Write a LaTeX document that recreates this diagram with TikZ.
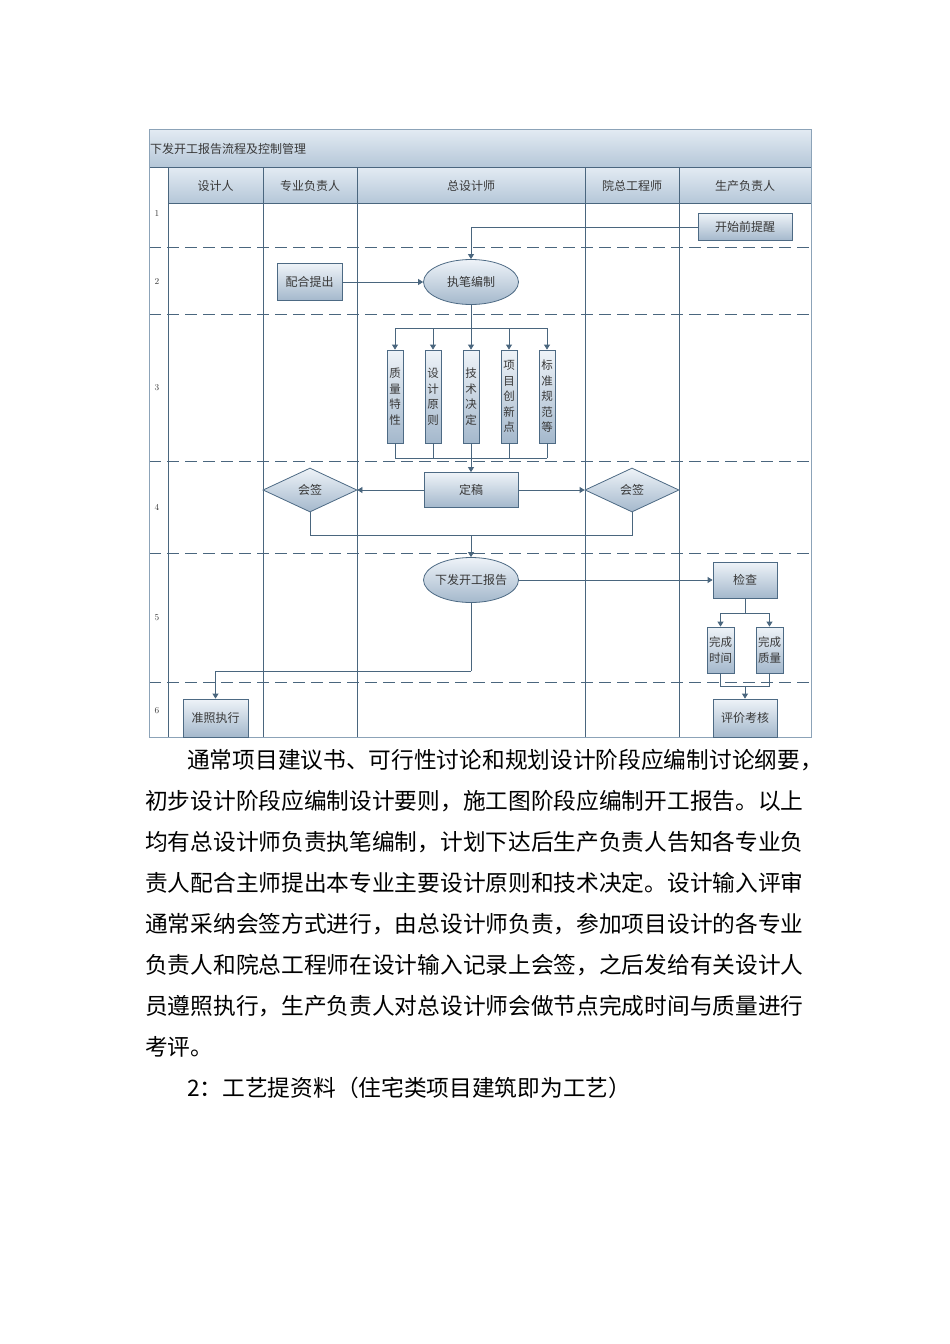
\documentclass[tikz,border=0pt]{standalone}
\usepackage{fontspec}
\newfontfamily\cjk{Noto Sans CJK SC}
\usetikzlibrary{shapes.geometric,arrows.meta}
\definecolor{lc}{HTML}{4A667E}
\definecolor{bc}{HTML}{4D6A84}
\definecolor{fr}{HTML}{8CA3B8}
\definecolor{tc}{HTML}{EEF3F8}
\definecolor{bcl}{HTML}{A4B8CC}
\definecolor{ttop}{HTML}{E3EBF3}
\definecolor{tbot}{HTML}{B5C7D8}
\definecolor{tx}{HTML}{383838}
\tikzset{
  proc/.style={draw=bc, line width=0.8pt, top color=tc, bottom color=bcl, inner sep=0pt,
    text=tx, font=\cjk\fontsize{12}{14}\selectfont},
  vbox/.style={proc, minimum width=16pt, minimum height=93pt, align=center,
    font=\cjk\fontsize{11.5}{15.5}\selectfont},
  cbox/.style={proc, minimum width=27pt, minimum height=46pt, align=center,
    font=\cjk\fontsize{11.5}{16}\selectfont},
  oval/.style={proc, ellipse, minimum width=95pt, minimum height=45pt},
  dia/.style={proc, diamond, minimum width=94pt, minimum height=44pt},
  conn/.style={draw=lc, line width=0.8pt},
  arr/.style={conn, -{Triangle[length=5pt,width=6pt]}},
  lane/.style={draw=lc, line width=0.8pt},
  rowsep/.style={draw=lc, line width=0.8pt, dash pattern=on 12pt off 6pt},
  hdr/.style={text=tx, font=\cjk\fontsize{12}{14}\selectfont, inner sep=0pt},
  num/.style={text=tx, font=\fontsize{9}{10}\selectfont, inner sep=0pt},
  body/.style={anchor=west, inner sep=0pt, font=\cjk\fontsize{22.7}{26}\selectfont}
}
\begin{document}
\begin{tikzpicture}[x=1pt,y=-1pt]
\useasboundingbox[fill=white] (0,0) rectangle (950,1344);
% title bar and header
\shade[top color=ttop, bottom color=tbot] (149,129) rectangle (811,167);
\shade[top color=ttop, bottom color=tbot] (168,167) rectangle (811,203);
\node[hdr, anchor=west] (title) at (150,149) {下发开工报告流程及控制管理};
\node[hdr] (h1) at (215.5,186) {设计人};
\node[hdr] (h2) at (310,186) {专业负责人};
\node[hdr] (h3) at (471,186) {总设计师};
\node[hdr] (h4) at (632,186) {院总工程师};
\node[hdr] (h5) at (745,186) {生产负责人};
% lanes
\draw[lane] (149,167) -- (811,167);
\draw[lane] (168,203) -- (811,203);
\foreach \x in {168,263,357,585,679} \draw[lane] (\x,167) -- (\x,737);
\foreach \y in {247,314,461,553,682} \draw[rowsep] (149,\y) -- (811,\y);
\draw[draw=fr, line width=1pt] (149,129) rectangle (811,737);
% row numbers
\node[num] (r1) at (157,213) {1};
\node[num] (r2) at (157,281) {2};
\node[num] (r3) at (157,388) {3};
\node[num] (r4) at (157,507) {4};
\node[num] (r5) at (157,618) {5};
\node[num] (r6) at (157,711) {6};
% nodes
\node[proc, minimum width=94pt, minimum height=27pt] (remind) at (745,227) {开始前提醒};
\node[proc, minimum width=65pt, minimum height=37pt] (peihe) at (309.5,282) {配合提出};
\node[oval] (bz) at (471,282) {执笔编制};
\node[vbox] (v1) at (395,396.5) {质\\量\\特\\性};
\node[vbox] (v2) at (433,396.5) {设\\计\\原\\则};
\node[vbox] (v3) at (471,396.5) {技\\术\\决\\定};
\node[vbox] (v4) at (509,396.5) {项\\目\\创\\新\\点};
\node[vbox] (v5) at (547,396.5) {标\\准\\规\\范\\等};
\node[proc, minimum width=94pt, minimum height=35pt] (dg) at (471,490) {定稿};
\node[dia] (hq1) at (310,490) {会签};
\node[dia] (hq2) at (632,490) {会签};
\node[oval] (xf) at (471,580) {\makebox[40pt][c]{下发开工报告}};
\node[proc, minimum width=64pt, minimum height=36pt] (jc) at (745,580) {检查};
\node[cbox] (t1) at (720.5,650) {完成\\时间};
\node[cbox] (t2) at (769.5,650) {完成\\质量};
\node[proc, minimum width=64pt, minimum height=38pt] (pj) at (745,718) {评价考核};
\node[proc, minimum width=65pt, minimum height=38pt] (zz) at (215.5,718) {准照执行};
% junction coordinates
\coordinate (b3) at (471,328);
\coordinate (j3) at (471,458);
\coordinate (j4) at (471,535);
\coordinate (j5) at (745,613);
\coordinate (j6) at (745,686);
\coordinate (j7) at (471,671);
% connectors
\draw[arr] (remind.west) -| (bz.north);
\draw[arr] (peihe.east) -- (bz.west);
\draw[conn] (bz.south) -- (b3);
\draw[conn] (v1.north |- b3) -- (v5.north |- b3);
\foreach \v in {v1,v2,v3,v4,v5} {
  \draw[arr] (\v.north |- b3) -- (\v.north);
  \draw[conn] (\v.south) -- (\v.south |- j3);
}
\draw[conn] (v1.south |- j3) -- (v5.south |- j3);
\draw[arr] (j3) -- (dg.north);
\draw[arr] (dg.west) -- (hq1.east);
\draw[arr] (dg.east) -- (hq2.west);
\draw[conn] (hq1.south) -- (hq1.south |- j4) -- (hq2.south |- j4) -- (hq2.south);
\draw[arr] (j4) -- (xf.north);
\draw[arr] (xf.east) -- (jc.west);
\draw[conn] (jc.south) -- (j5);
\draw[conn] (t1.north |- j5) -- (t2.north |- j5);
\draw[arr] (t1.north |- j5) -- (t1.north);
\draw[arr] (t2.north |- j5) -- (t2.north);
\draw[conn] (t1.south) -- (t1.south |- j6) -- (t2.south |- j6) -- (t2.south);
\draw[arr] (j6) -- (pj.north);
\draw[conn] (xf.south) -- (j7);
\draw[arr] (j7) -| (zz.north);
% body text
\node[body] (p1) at (187,760) {通常项目建议书、可行性讨论和规划设计阶段应编制讨论纲要，};
\node[body] (p2) at (145,801) {初步设计阶段应编制设计要则，施工图阶段应编制开工报告。以上};
\node[body] (p3) at (145,842) {均有总设计师负责执笔编制，计划下达后生产负责人告知各专业负};
\node[body] (p4) at (145,883) {责人配合主师提出本专业主要设计原则和技术决定。设计输入评审};
\node[body] (p5) at (145,924) {通常采纳会签方式进行，由总设计师负责，参加项目设计的各专业};
\node[body] (p6) at (145,965) {负责人和院总工程师在设计输入记录上会签，之后发给有关设计人};
\node[body] (p7) at (145,1006) {员遵照执行，生产负责人对总设计师会做节点完成时间与质量进行};
\node[body] (p8) at (145,1047) {考评。};
\node[body] (p9) at (187,1088) {2：工艺提资料（住宅类项目建筑即为工艺）};
\end{tikzpicture}
\end{document}
